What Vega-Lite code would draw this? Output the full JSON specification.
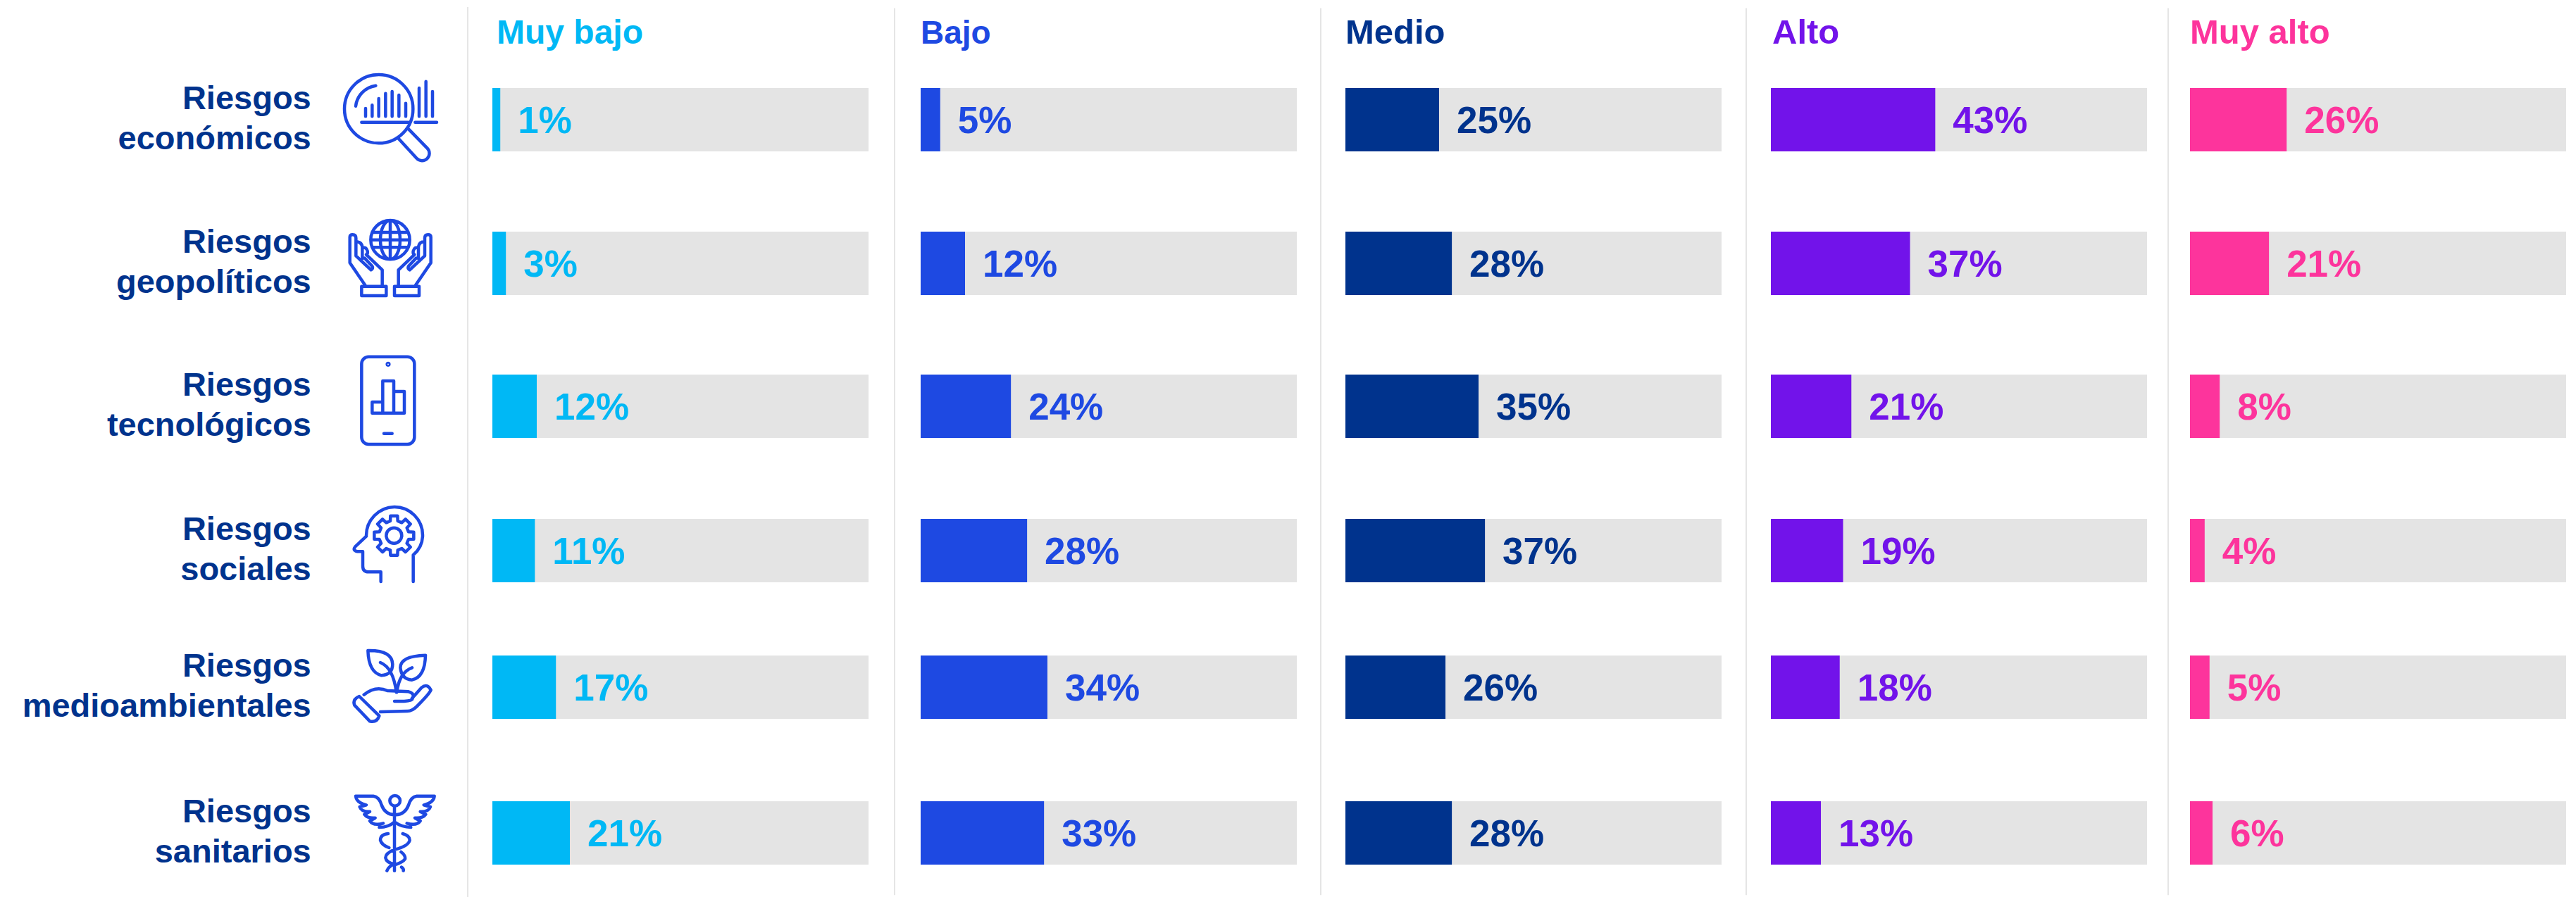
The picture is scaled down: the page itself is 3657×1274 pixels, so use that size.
{
"$schema":"https://vega.github.io/schema/vega-lite/v6.json",
"padding":0,"spacing":0,"bounds":"flush","background":"#ffffff",
"config":{"view":{"stroke":null},"axis":{"disable":true},"text":{"font":"Liberation Sans","fontWeight":"bold"}},
"datasets":{
"riesgos":[
{"riesgo":"económicos","fila":0,"rotulo":"Riesgos\neconómicos"},
{"riesgo":"geopolíticos","fila":1,"rotulo":"Riesgos\ngeopolíticos"},
{"riesgo":"tecnológicos","fila":2,"rotulo":"Riesgos\ntecnológicos"},
{"riesgo":"sociales","fila":3,"rotulo":"Riesgos\nsociales"},
{"riesgo":"medioambientales","fila":4,"rotulo":"Riesgos\nmedioambientales"},
{"riesgo":"sanitarios","fila":5,"rotulo":"Riesgos\nsanitarios"}],
"niveles":[{"nivel":"Muy bajo","fila":-1},{"nivel":"Bajo","fila":-1},{"nivel":"Medio","fila":-1},{"nivel":"Alto","fila":-1},{"nivel":"Muy alto","fila":-1}],
"valores":[
{"nivel":"Muy bajo","fila":0,"valor":2.1,"etiqueta":"1%"},{"nivel":"Muy bajo","fila":1,"valor":3.6,"etiqueta":"3%"},{"nivel":"Muy bajo","fila":2,"valor":11.8,"etiqueta":"12%"},{"nivel":"Muy bajo","fila":3,"valor":11.3,"etiqueta":"11%"},{"nivel":"Muy bajo","fila":4,"valor":16.9,"etiqueta":"17%"},{"nivel":"Muy bajo","fila":5,"valor":20.6,"etiqueta":"21%"},
{"nivel":"Bajo","fila":0,"valor":5.2,"etiqueta":"5%"},{"nivel":"Bajo","fila":1,"valor":11.8,"etiqueta":"12%"},{"nivel":"Bajo","fila":2,"valor":24,"etiqueta":"24%"},{"nivel":"Bajo","fila":3,"valor":28.3,"etiqueta":"28%"},{"nivel":"Bajo","fila":4,"valor":33.7,"etiqueta":"34%"},{"nivel":"Bajo","fila":5,"valor":32.8,"etiqueta":"33%"},
{"nivel":"Medio","fila":0,"valor":24.9,"etiqueta":"25%"},{"nivel":"Medio","fila":1,"valor":28.3,"etiqueta":"28%"},{"nivel":"Medio","fila":2,"valor":35.4,"etiqueta":"35%"},{"nivel":"Medio","fila":3,"valor":37.1,"etiqueta":"37%"},{"nivel":"Medio","fila":4,"valor":26.6,"etiqueta":"26%"},{"nivel":"Medio","fila":5,"valor":28.3,"etiqueta":"28%"},
{"nivel":"Alto","fila":0,"valor":43.7,"etiqueta":"43%"},{"nivel":"Alto","fila":1,"valor":37,"etiqueta":"37%"},{"nivel":"Alto","fila":2,"valor":21.4,"etiqueta":"21%"},{"nivel":"Alto","fila":3,"valor":19.2,"etiqueta":"19%"},{"nivel":"Alto","fila":4,"valor":18.3,"etiqueta":"18%"},{"nivel":"Alto","fila":5,"valor":13.3,"etiqueta":"13%"},
{"nivel":"Muy alto","fila":0,"valor":25.7,"etiqueta":"26%"},{"nivel":"Muy alto","fila":1,"valor":21,"etiqueta":"21%"},{"nivel":"Muy alto","fila":2,"valor":7.9,"etiqueta":"8%"},{"nivel":"Muy alto","fila":3,"valor":3.9,"etiqueta":"4%"},{"nivel":"Muy alto","fila":4,"valor":5.2,"etiqueta":"5%"},{"nivel":"Muy alto","fila":5,"valor":6,"etiqueta":"6%"}]
},
"hconcat":[
{"width":699,"height":1274,"data":{"name":"riesgos"},
"encoding":{"y":{"field":"fila","type":"quantitative","axis":null,"scale":{"domain":[-2,-1,0,1,2,3,4,5,6],"range":[10,62,170,374,577,782,976,1183,1274]}}},
"layer":[
{"mark":{"type":"text","align":"right","baseline":"alphabetic","fontSize":47,"lineHeight":57,"lineBreak":"\n","dy":-15,"color":"#00338d"},
"encoding":{"x":{"datum":0.632,"type":"quantitative","scale":{"domain":[0,1]}},"text":{"field":"rotulo"}}},
{"mark":{"type":"point","filled":false,"opacity":1,"strokeWidth":4.5,"strokeCap":"round","strokeJoin":"round","color":"#1e49e2","size":0.4444},
"encoding":{"x":{"datum":0.794,"type":"quantitative","scale":{"domain":[0,1]}},
"shape":{"field":"riesgo","type":"nominal","legend":null,"scale":{"domain":["económicos","geopolíticos","tecnológicos","sociales","medioambientales","sanitarios"],"range":[
"M -198 -46 A 146 146 0 1 1 94 -46 A 146 146 0 1 1 -198 -46 Z M -150 -58 A 100 100 0 0 1 -65 -145 M -108 -48 L -108 -14 M -80 -62 L -80 -14 M -52 -90 L -52 -14 M -23 -112 L -23 -14 M 5 -120 L 5 -14 M 34 -105 L 34 -14 M 63 -70 L 63 -14 M 120 -135 L 120 -14 M 149 -163 L 149 -14 M 177 -120 L 177 -14 M -125 11 L 75 11 M 103 11 L 195 11 M 70 35 L 155 122 A 30 30 0 0 1 110 165 L 30 78",
"M -86 -100 A 83 83 0 1 1 80 -100 A 83 83 0 1 1 -86 -100 Z M -3 -183 A 42 83 0 0 0 -3 -17 A 42 83 0 0 0 -3 -183 Z M -3 -183 L -3 -17 M -86 -100 L 80 -100 M -78 -132 L 72 -132 M -78 -68 L 72 -68 M -110 93 L -175 -2 L -175 -112 Q -175 -122 -163 -122 Q -149 -122 -149 -107 L -149 -32 L -85 28 Q -75 22 -80 12 L -112 -22 M -149 -92 Q -125 -92 -122 -70 L -122 -20 M -122 -65 Q -105 -72 -100 -52 Q -98 -40 -105 -37 L -37 28 L -37 93 M -125 98 L -20 98 L -20 138 L -125 138 Z M 105 93 L 170 -2 L 170 -112 Q 170 -122 158 -122 Q 144 -122 144 -107 L 144 -32 L 80 28 Q 70 22 75 12 L 107 -22 M 144 -92 Q 120 -92 117 -70 L 117 -20 M 117 -65 Q 100 -72 95 -52 Q 93 -40 100 -37 L 32 28 L 32 93 M 120 98 L 15 98 L 15 138 L 120 138 Z",
"M -95 -211 L 70 -211 A 30 30 0 0 1 100 -181 L 100 132 A 30 30 0 0 1 70 162 L -95 162 A 30 30 0 0 1 -125 132 L -125 -181 A 30 30 0 0 1 -95 -211 Z M -16 -179 A 4 4 0 1 1 -8 -179 A 4 4 0 1 1 -16 -179 Z M -30 116 L 5 116 M -80 -18 L -35 -18 L -35 29 L -80 29 Z M -35 -108 L 12 -108 L 12 29 L -35 29 Z M 12 -63 L 57 -63 L 57 29 L 12 29 Z",
"M -43 132 L -43 91 L -95 91 Q -120 91 -120 66 L -120 4 L -143 4 Q -165 0 -152 -17 L -105 -61 A 122 122 0 0 1 15 -186 A 120 120 0 0 1 135 -66 Q 135 -15 95 19 L 95 132 M 75 -80 L 97 -79 L 97 -49 L 75 -48 L 68 -31 L 83 -15 L 62 6 L 46 -9 L 29 -2 L 28 20 L -2 20 L -3 -2 L -20 -9 L -36 6 L -57 -15 L -42 -31 L -49 -48 L -71 -49 L -71 -79 L -49 -80 L -42 -97 L -57 -113 L -36 -134 L -20 -119 L -3 -126 L -2 -148 L 28 -148 L 29 -126 L 46 -119 L 62 -134 L 83 -113 L 68 -97 Z M -20 -64 A 33 33 0 1 1 46 -64 A 33 33 0 1 1 -20 -64 Z",
"M -98 -156 Q 5 -158 7 -98 Q 7 -53 -40 -50 Q -95 -63 -98 -156 Z M 147 -136 Q 40 -133 40 -83 Q 45 -33 90 -31 Q 145 -43 147 -136 Z M -45 -105 Q 10 -83 23 22 M 90 -83 Q 35 -63 25 22 M -135 39 L -50 122 Q -60 152 -90 145 L -155 77 Q -165 52 -135 39 Z M -115 32 Q -65 -8 -15 15 L 75 19 Q 105 27 90 52 Q 80 62 15 60 M 90 47 L 130 2 Q 155 -18 170 12 Q 165 27 110 82 Q 90 102 70 102 L -45 105",
"M 15 -114 L 15 161 M -5 -137 A 22 22 0 1 1 39 -137 A 22 22 0 1 1 -5 -137 Z M -150 -157 L -75 -157 Q -50 -154 -40 -119 Q -25 -79 15 -77 M -150 -157 Q -147 -129 -105 -119 L -133 -111 Q -125 -89 -90 -91 L -113 -79 Q -100 -61 -67 -64 L -90 -51 Q -75 -29 -33 -41 M -50 -24 Q -10 -24 15 -47 M 185 -157 L 110 -157 Q 85 -154 75 -119 Q 60 -79 20 -77 M 185 -157 Q 182 -129 140 -119 L 168 -111 Q 160 -89 125 -91 L 148 -79 Q 135 -61 102 -64 L 125 -51 Q 110 -29 68 -41 M 85 -24 Q 45 -24 15 -47 M -12 3 Q -45 6 -45 31 Q -40 51 -8 63 M 50 3 Q 80 11 80 31 Q 75 56 15 71 Q -23 86 -23 106 Q -20 126 15 133 Q -10 141 -17 161 M 43 81 Q 63 96 60 111 Q 50 126 15 136 M 45 146 Q 55 153 53 161"
]}}}},
{"data":{"values":[{"divisor":0.95,"desde":-2,"hasta":6}]},"mark":{"type":"rule","color":"#e5e5e5","strokeWidth":2},
"encoding":{"x":{"field":"divisor","type":"quantitative","scale":{"domain":[0,1]}},"y":{"field":"desde","type":"quantitative","scale":{"domain":[-2,-1,0,1,2,3,4,5,6],"range":[10,62,170,374,577,782,976,1183,1274]}},"y2":{"field":"hasta"}}}
]},
{"width":608,"height":1274,"data":{"name":"valores"},"transform":[{"filter":{"field":"nivel","equal":"Muy bajo"}}],
"encoding":{"y":{"field":"fila","type":"quantitative","axis":null,"scale":{"domain":[-2,-1,0,1,2,3,4,5,6],"range":[10,62,170,374,577,782,976,1183,1274]}},"color":{"field":"nivel","type":"nominal","legend":null,"scale":{"domain":["Muy bajo","Bajo","Medio","Alto","Muy alto"],"range":["#00b8f5","#1e49e2","#00338d","#7213ea","#fd349c"]}}},
"layer":[
{"mark":{"type":"bar","orient":"horizontal","height":90},"encoding":{"x":{"datum":0,"type":"quantitative","scale":{"domain":[0,113.86]}},"x2":{"datum":100},"color":{"value":"#e4e4e4"}}},
{"mark":{"type":"bar","orient":"horizontal","height":90},"encoding":{"x":{"field":"valor","type":"quantitative","stack":null,"scale":{"domain":[0,113.86]}}}},
{"mark":{"type":"text","align":"left","baseline":"alphabetic","fontSize":53,"dx":25,"dy":19},"encoding":{"x":{"field":"valor","type":"quantitative","stack":null,"scale":{"domain":[0,113.86]}},"text":{"field":"etiqueta"}}},
{"data":{"name":"niveles"},"transform":[{"filter":{"field":"nivel","equal":"Muy bajo"}}],"mark":{"type":"text","align":"left","baseline":"alphabetic","fontSize":48,"dx":6},"encoding":{"x":{"datum":0,"type":"quantitative","scale":{"domain":[0,113.86]}},"text":{"field":"nivel"}}}
]},
{"width":603,"height":1274,"data":{"name":"valores"},"transform":[{"filter":{"field":"nivel","equal":"Bajo"}}],
"encoding":{"y":{"field":"fila","type":"quantitative","axis":null,"scale":{"domain":[-2,-1,0,1,2,3,4,5,6],"range":[10,62,170,374,577,782,976,1183,1274]}},"color":{"field":"nivel","type":"nominal","legend":null,"scale":{"domain":["Muy bajo","Bajo","Medio","Alto","Muy alto"],"range":["#00b8f5","#1e49e2","#00338d","#7213ea","#fd349c"]}}},
"layer":[
{"mark":{"type":"bar","orient":"horizontal","height":90},"encoding":{"x":{"datum":0,"type":"quantitative","scale":{"domain":[0,112.92]}},"x2":{"datum":100},"color":{"value":"#e4e4e4"}}},
{"mark":{"type":"bar","orient":"horizontal","height":90},"encoding":{"x":{"field":"valor","type":"quantitative","stack":null,"scale":{"domain":[0,112.92]}}}},
{"mark":{"type":"text","align":"left","baseline":"alphabetic","fontSize":53,"dx":25,"dy":19},"encoding":{"x":{"field":"valor","type":"quantitative","stack":null,"scale":{"domain":[0,112.92]}},"text":{"field":"etiqueta"}}},
{"data":{"name":"niveles"},"transform":[{"filter":{"field":"nivel","equal":"Bajo"}}],"mark":{"type":"text","align":"left","baseline":"alphabetic","fontSize":46},"encoding":{"x":{"datum":0,"type":"quantitative","scale":{"domain":[0,112.92]}},"text":{"field":"nivel"}}},
{"data":{"values":[{"divisor":-6.93,"desde":-2,"hasta":6}]},"mark":{"type":"rule","strokeWidth":2},"encoding":{"x":{"field":"divisor","type":"quantitative","scale":{"domain":[0,112.92]}},"y":{"field":"desde","type":"quantitative","scale":{"domain":[-2,-1,0,1,2,3,4,5,6],"range":[10,62,170,374,577,782,976,1183,1274]}},"y2":{"field":"hasta"},"color":{"value":"#e5e5e5"}}}
]},
{"width":604,"height":1274,"data":{"name":"valores"},"transform":[{"filter":{"field":"nivel","equal":"Medio"}}],
"encoding":{"y":{"field":"fila","type":"quantitative","axis":null,"scale":{"domain":[-2,-1,0,1,2,3,4,5,6],"range":[10,62,170,374,577,782,976,1183,1274]}},"color":{"field":"nivel","type":"nominal","legend":null,"scale":{"domain":["Muy bajo","Bajo","Medio","Alto","Muy alto"],"range":["#00b8f5","#1e49e2","#00338d","#7213ea","#fd349c"]}}},
"layer":[
{"mark":{"type":"bar","orient":"horizontal","height":90},"encoding":{"x":{"datum":0,"type":"quantitative","scale":{"domain":[0,113.11]}},"x2":{"datum":100},"color":{"value":"#e4e4e4"}}},
{"mark":{"type":"bar","orient":"horizontal","height":90},"encoding":{"x":{"field":"valor","type":"quantitative","stack":null,"scale":{"domain":[0,113.11]}}}},
{"mark":{"type":"text","align":"left","baseline":"alphabetic","fontSize":53,"dx":25,"dy":19},"encoding":{"x":{"field":"valor","type":"quantitative","stack":null,"scale":{"domain":[0,113.11]}},"text":{"field":"etiqueta"}}},
{"data":{"name":"niveles"},"transform":[{"filter":{"field":"nivel","equal":"Medio"}}],"mark":{"type":"text","align":"left","baseline":"alphabetic","fontSize":49},"encoding":{"x":{"datum":0,"type":"quantitative","scale":{"domain":[0,113.11]}},"text":{"field":"nivel"}}},
{"data":{"values":[{"divisor":-6.55,"desde":-2,"hasta":6}]},"mark":{"type":"rule","strokeWidth":2},"encoding":{"x":{"field":"divisor","type":"quantitative","scale":{"domain":[0,113.11]}},"y":{"field":"desde","type":"quantitative","scale":{"domain":[-2,-1,0,1,2,3,4,5,6],"range":[10,62,170,374,577,782,976,1183,1274]}},"y2":{"field":"hasta"},"color":{"value":"#e5e5e5"}}}
]},
{"width":595,"height":1274,"data":{"name":"valores"},"transform":[{"filter":{"field":"nivel","equal":"Alto"}}],
"encoding":{"y":{"field":"fila","type":"quantitative","axis":null,"scale":{"domain":[-2,-1,0,1,2,3,4,5,6],"range":[10,62,170,374,577,782,976,1183,1274]}},"color":{"field":"nivel","type":"nominal","legend":null,"scale":{"domain":["Muy bajo","Bajo","Medio","Alto","Muy alto"],"range":["#00b8f5","#1e49e2","#00338d","#7213ea","#fd349c"]}}},
"layer":[
{"mark":{"type":"bar","orient":"horizontal","height":90},"encoding":{"x":{"datum":0,"type":"quantitative","scale":{"domain":[0,111.42]}},"x2":{"datum":100},"color":{"value":"#e4e4e4"}}},
{"mark":{"type":"bar","orient":"horizontal","height":90},"encoding":{"x":{"field":"valor","type":"quantitative","stack":null,"scale":{"domain":[0,111.42]}}}},
{"mark":{"type":"text","align":"left","baseline":"alphabetic","fontSize":53,"dx":25,"dy":19},"encoding":{"x":{"field":"valor","type":"quantitative","stack":null,"scale":{"domain":[0,111.42]}},"text":{"field":"etiqueta"}}},
{"data":{"name":"niveles"},"transform":[{"filter":{"field":"nivel","equal":"Alto"}}],"mark":{"type":"text","align":"left","baseline":"alphabetic","fontSize":49,"dx":2},"encoding":{"x":{"datum":0,"type":"quantitative","scale":{"domain":[0,111.42]}},"text":{"field":"nivel"}}},
{"data":{"values":[{"divisor":-6.55,"desde":-2,"hasta":6}]},"mark":{"type":"rule","strokeWidth":2},"encoding":{"x":{"field":"divisor","type":"quantitative","scale":{"domain":[0,111.42]}},"y":{"field":"desde","type":"quantitative","scale":{"domain":[-2,-1,0,1,2,3,4,5,6],"range":[10,62,170,374,577,782,976,1183,1274]}},"y2":{"field":"hasta"},"color":{"value":"#e5e5e5"}}}
]},
{"width":548,"height":1274,"data":{"name":"valores"},"transform":[{"filter":{"field":"nivel","equal":"Muy alto"}}],
"encoding":{"y":{"field":"fila","type":"quantitative","axis":null,"scale":{"domain":[-2,-1,0,1,2,3,4,5,6],"range":[10,62,170,374,577,782,976,1183,1274]}},"color":{"field":"nivel","type":"nominal","legend":null,"scale":{"domain":["Muy bajo","Bajo","Medio","Alto","Muy alto"],"range":["#00b8f5","#1e49e2","#00338d","#7213ea","#fd349c"]}}},
"layer":[
{"mark":{"type":"bar","orient":"horizontal","height":90},"encoding":{"x":{"datum":0,"type":"quantitative","scale":{"domain":[0,102.62]}},"x2":{"datum":100},"color":{"value":"#e4e4e4"}}},
{"mark":{"type":"bar","orient":"horizontal","height":90},"encoding":{"x":{"field":"valor","type":"quantitative","stack":null,"scale":{"domain":[0,102.62]}}}},
{"mark":{"type":"text","align":"left","baseline":"alphabetic","fontSize":53,"dx":25,"dy":19},"encoding":{"x":{"field":"valor","type":"quantitative","stack":null,"scale":{"domain":[0,102.62]}},"text":{"field":"etiqueta"}}},
{"data":{"name":"niveles"},"transform":[{"filter":{"field":"nivel","equal":"Muy alto"}}],"mark":{"type":"text","align":"left","baseline":"alphabetic","fontSize":49},"encoding":{"x":{"datum":0,"type":"quantitative","scale":{"domain":[0,102.62]}},"text":{"field":"nivel"}}},
{"data":{"values":[{"divisor":-5.8,"desde":-2,"hasta":6}]},"mark":{"type":"rule","strokeWidth":2},"encoding":{"x":{"field":"divisor","type":"quantitative","scale":{"domain":[0,102.62]}},"y":{"field":"desde","type":"quantitative","scale":{"domain":[-2,-1,0,1,2,3,4,5,6],"range":[10,62,170,374,577,782,976,1183,1274]}},"y2":{"field":"hasta"},"color":{"value":"#e5e5e5"}}}
]}
],
"resolve":{"scale":{"color":"independent","shape":"independent","x":"independent","y":"independent"}}
}
